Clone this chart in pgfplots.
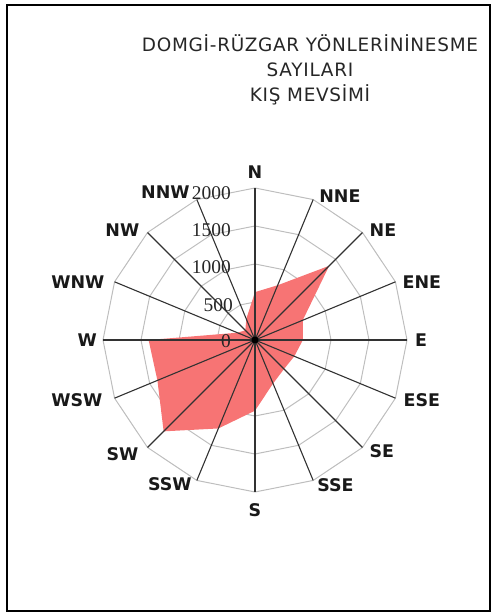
\documentclass[border=0pt]{standalone}
\usepackage{pgfplots}
\pgfplotsset{compat=1.18}
\usepgfplotslibrary{polar}
\usetikzlibrary{calc}
\usepackage{fontspec}
\setmainfont{Liberation Serif}
\newfontfamily\labfont{DejaVu Sans}
\newfontfamily\titlefont[LetterSpace=4]{DejaVu Sans}
\definecolor{rosefill}{RGB}{247,116,116}
\definecolor{ringgray}{RGB}{190,190,190}
\definecolor{spoke}{RGB}{50,50,50}

\begin{document}
\begin{tikzpicture}
\begin{scope}[x=1bp,y=1bp]
% page and chart frame
\path (0,0) rectangle (496,615);
\draw[black, line width=1.4bp] (7,4) rectangle (490,610);

% title
\node[align=center, text=black!85, font=\titlefont\fontsize{18.5}{25}\selectfont]
  at (310,545) {DOMGİ-RÜZGAR YÖNLERİNİNESME\\SAYILARI\\KIŞ MEVSİMİ};

% rings (16-gons) at 500, 1000, 1500, 2000
\begin{scope}[shift={(255,275)}]
  \foreach \r in {38,76,114,152}
    \draw[ringgray, line width=1bp] (90:\r) \foreach \k in {1,...,15}{ -- ({90-22.5*\k}:\r)} -- cycle;
\end{scope}
\end{scope}

\begin{polaraxis}[
    at={(255bp,275bp)}, anchor=center,
    width=304bp, height=304bp, scale only axis,
    ymin=0, ymax=2000,
    hide axis, clip=false,
]
% winter counts, clockwise from N (angle in degrees, value)
\addplot[fill=rosefill, draw=none, no markers] coordinates {
    (90,630) (67.5,780) (45,1380) (22.5,680)
    (0,630) (-22.5,560) (-45,540) (-67.5,620)
    (-90,930) (-112.5,1260) (-135,1700) (-157.5,1390)
    (-180,1400) (-202.5,250) (-225,180) (-247.5,300) (90,630)
};
\end{polaraxis}

\begin{scope}[x=1bp,y=1bp]
% spokes and centre
\begin{scope}[shift={(255,275)}]
  \foreach \k in {0,...,15}
    \draw[spoke, line width=1.1bp] (0,0) -- ({90-22.5*\k}:152);
  \fill[black] (0,0) circle (3.5);
\end{scope}

% direction labels
\begin{scope}[shift={(255,275)}, every node/.style={font=\labfont\bfseries\fontsize{17.5}{20}\selectfont, text=black!90, inner sep=0pt}]
  \node[anchor=south] at ($(90:152)+(0,9)$) {N};
  \node[anchor=west] at ($(67.5:152)+(6,3)$) {NNE};
  \node[anchor=west] at ($(45:152)+(7,2)$) {NE};
  \node[anchor=west] at ($(22.5:152)+(7,0)$) {ENE};
  \node[anchor=west] at ($(0:152)+(8,0)$) {E};
  \node[anchor=west] at ($(-22.5:152)+(8,-2)$) {ESE};
  \node[anchor=west] at ($(-45:152)+(7,-4)$) {SE};
  \node[anchor=west] at ($(-67.5:152)+(4,-5)$) {SSE};
  \node[anchor=north] at ($(-90:152)+(0,-11)$) {S};
  \node[anchor=east] at ($(-112.5:152)+(-5,-4)$) {SSW};
  \node[anchor=east] at ($(-135:152)+(-9,-7)$) {SW};
  \node[anchor=east] at ($(-157.5:152)+(-12,-2)$) {WSW};
  \node[anchor=east] at ($(180:152)+(-6,0)$) {W};
  \node[anchor=east] at ($(157.5:152)+(-10,0)$) {WNW};
  \node[anchor=east] at ($(135:152)+(-8,2)$) {NW};
  \node[anchor=east] at ($(112.5:152)+(-7,7)$) {NNW};
\end{scope}

% ring value labels
\begin{scope}[every node/.style={anchor=east, inner sep=0pt, text=black!85, font=\fontsize{19.5}{22}\selectfont}]
  \node at (231,422) {2000};
  \node at (231,385) {1500};
  \node at (231,348) {1000};
  \node at (233,310) {500};
  \node at (231,274) {0};
\end{scope}
\end{scope}
\end{tikzpicture}
\end{document}
